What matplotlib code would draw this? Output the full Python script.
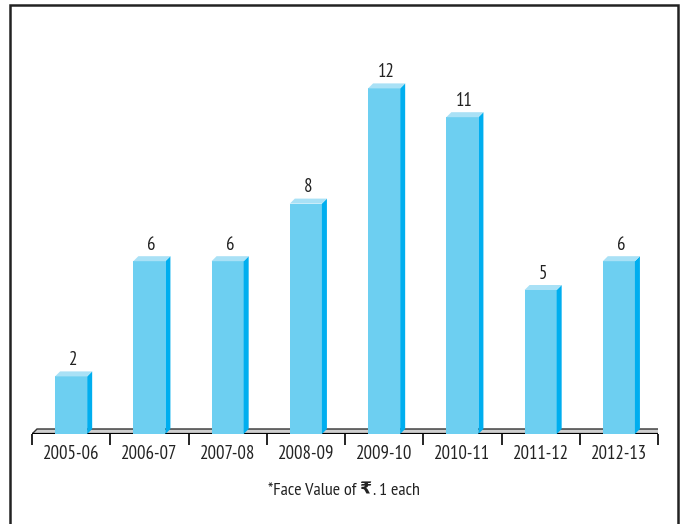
import matplotlib.pyplot as plt
from matplotlib.patches import Polygon, Rectangle
from matplotlib.offsetbox import TextArea, HPacker, AnnotationBbox

years = ['2005-06', '2006-07', '2007-08', '2008-09', '2009-10', '2010-11', '2011-12', '2012-13']
dividend = [2, 6, 6, 8, 12, 11, 5, 6]
note_parts = ['*Face Value of', '\u20b9', '. 1 each']

plt.rcParams['font.family'] = ['PT Sans Narrow', 'DejaVu Sans']

W, H = 682, 524
fig = plt.figure(figsize=(W / 100, H / 100), dpi=100)

# axes placed in pixels: floor front edge from x=32 to 658 at y=434
left, right, base, top = 32, 658, 434, 20
ax = fig.add_axes([left / W, (H - base) / H, (right - left) / W, (base - top) / H])
px_per_unit = 28.8
ax.set_xlim(-0.5, len(years) - 0.5)
ax.set_ylim(0, (base - top) / px_per_unit)
px_per_cat = (right - left) / len(years)

depth = 5
ddx = depth / px_per_cat
ddy = depth / px_per_unit
bw = 0.41

front_c = '#6dcff1'
side_c = '#00aeef'
top_c = '#a9e1f6'

# floor
x0, x1 = -0.5, len(years) - 0.5
ax.add_patch(Polygon([(x0, 0), (x1, 0), (x1 + ddx, ddy), (x0 + ddx, ddy)],
                     closed=True, facecolor='#cfcfcf', edgecolor='#333333', lw=1, zorder=1))
ax.plot([x0, x1], [0, 0], color='black', lw=1.6, zorder=2, solid_capstyle='butt')

for i, v in enumerate(dividend):
    l, r = i - bw / 2, i + bw / 2
    ax.add_patch(Polygon([(l, 0), (r, 0), (r, v), (l, v)], closed=True,
                         facecolor=front_c, edgecolor='none', zorder=3))
    ax.add_patch(Polygon([(r, 0), (r + ddx, ddy), (r + ddx, v + ddy), (r, v)], closed=True,
                         facecolor=side_c, edgecolor='none', zorder=3))
    ax.add_patch(Polygon([(l, v), (r, v), (r + ddx, v + ddy), (l + ddx, v + ddy)], closed=True,
                         facecolor=top_c, edgecolor='none', zorder=3))
    ax.annotate(str(v), (i + 0.03, v), xytext=(0, 8), textcoords='offset points',
                ha='center', va='baseline', fontsize=13.5, color='#222222')

for s in ax.spines.values():
    s.set_visible(False)
ax.set_yticks([])
ax.set_xticks([k - 0.5 for k in range(len(years) + 1)])
ax.set_xticklabels([])
ax.tick_params(axis='x', which='major', length=8, width=1.2, direction='out', color='black')
ax.set_xticks(range(len(years)), minor=True)
ax.set_xticklabels(years, minor=True, fontsize=13.5, color='#222222')
ax.tick_params(axis='x', which='minor', length=0, pad=8)

# footnote: rupee sign drawn in DejaVu Sans
fam = ['PT Sans Narrow', 'DejaVu Sans']
boxes = [TextArea(note_parts[0], textprops=dict(fontsize=13, color='#222222', family=fam)),
         TextArea(note_parts[1], textprops=dict(fontsize=12.5, color='#222222', family='DejaVu Sans',
                                                weight='bold')),
         TextArea(note_parts[2], textprops=dict(fontsize=13, color='#222222', family=fam))]
pack = HPacker(children=boxes, align='baseline', pad=0, sep=1.5)
fig.add_artist(AnnotationBbox(pack, (344 / W, 1 - 490 / H), xycoords='figure fraction',
                              frameon=False, box_alignment=(0.5, 0.5)))

# outer frame (bottom edge lies outside the picture)
fig.patches.append(Rectangle((10 / W, -0.05), (678 - 10) / W, (H - 5) / H + 0.05,
                             transform=fig.transFigure, fill=False, edgecolor='#222222',
                             lw=1.8, zorder=0))

fig.savefig('out.png', dpi=100)
